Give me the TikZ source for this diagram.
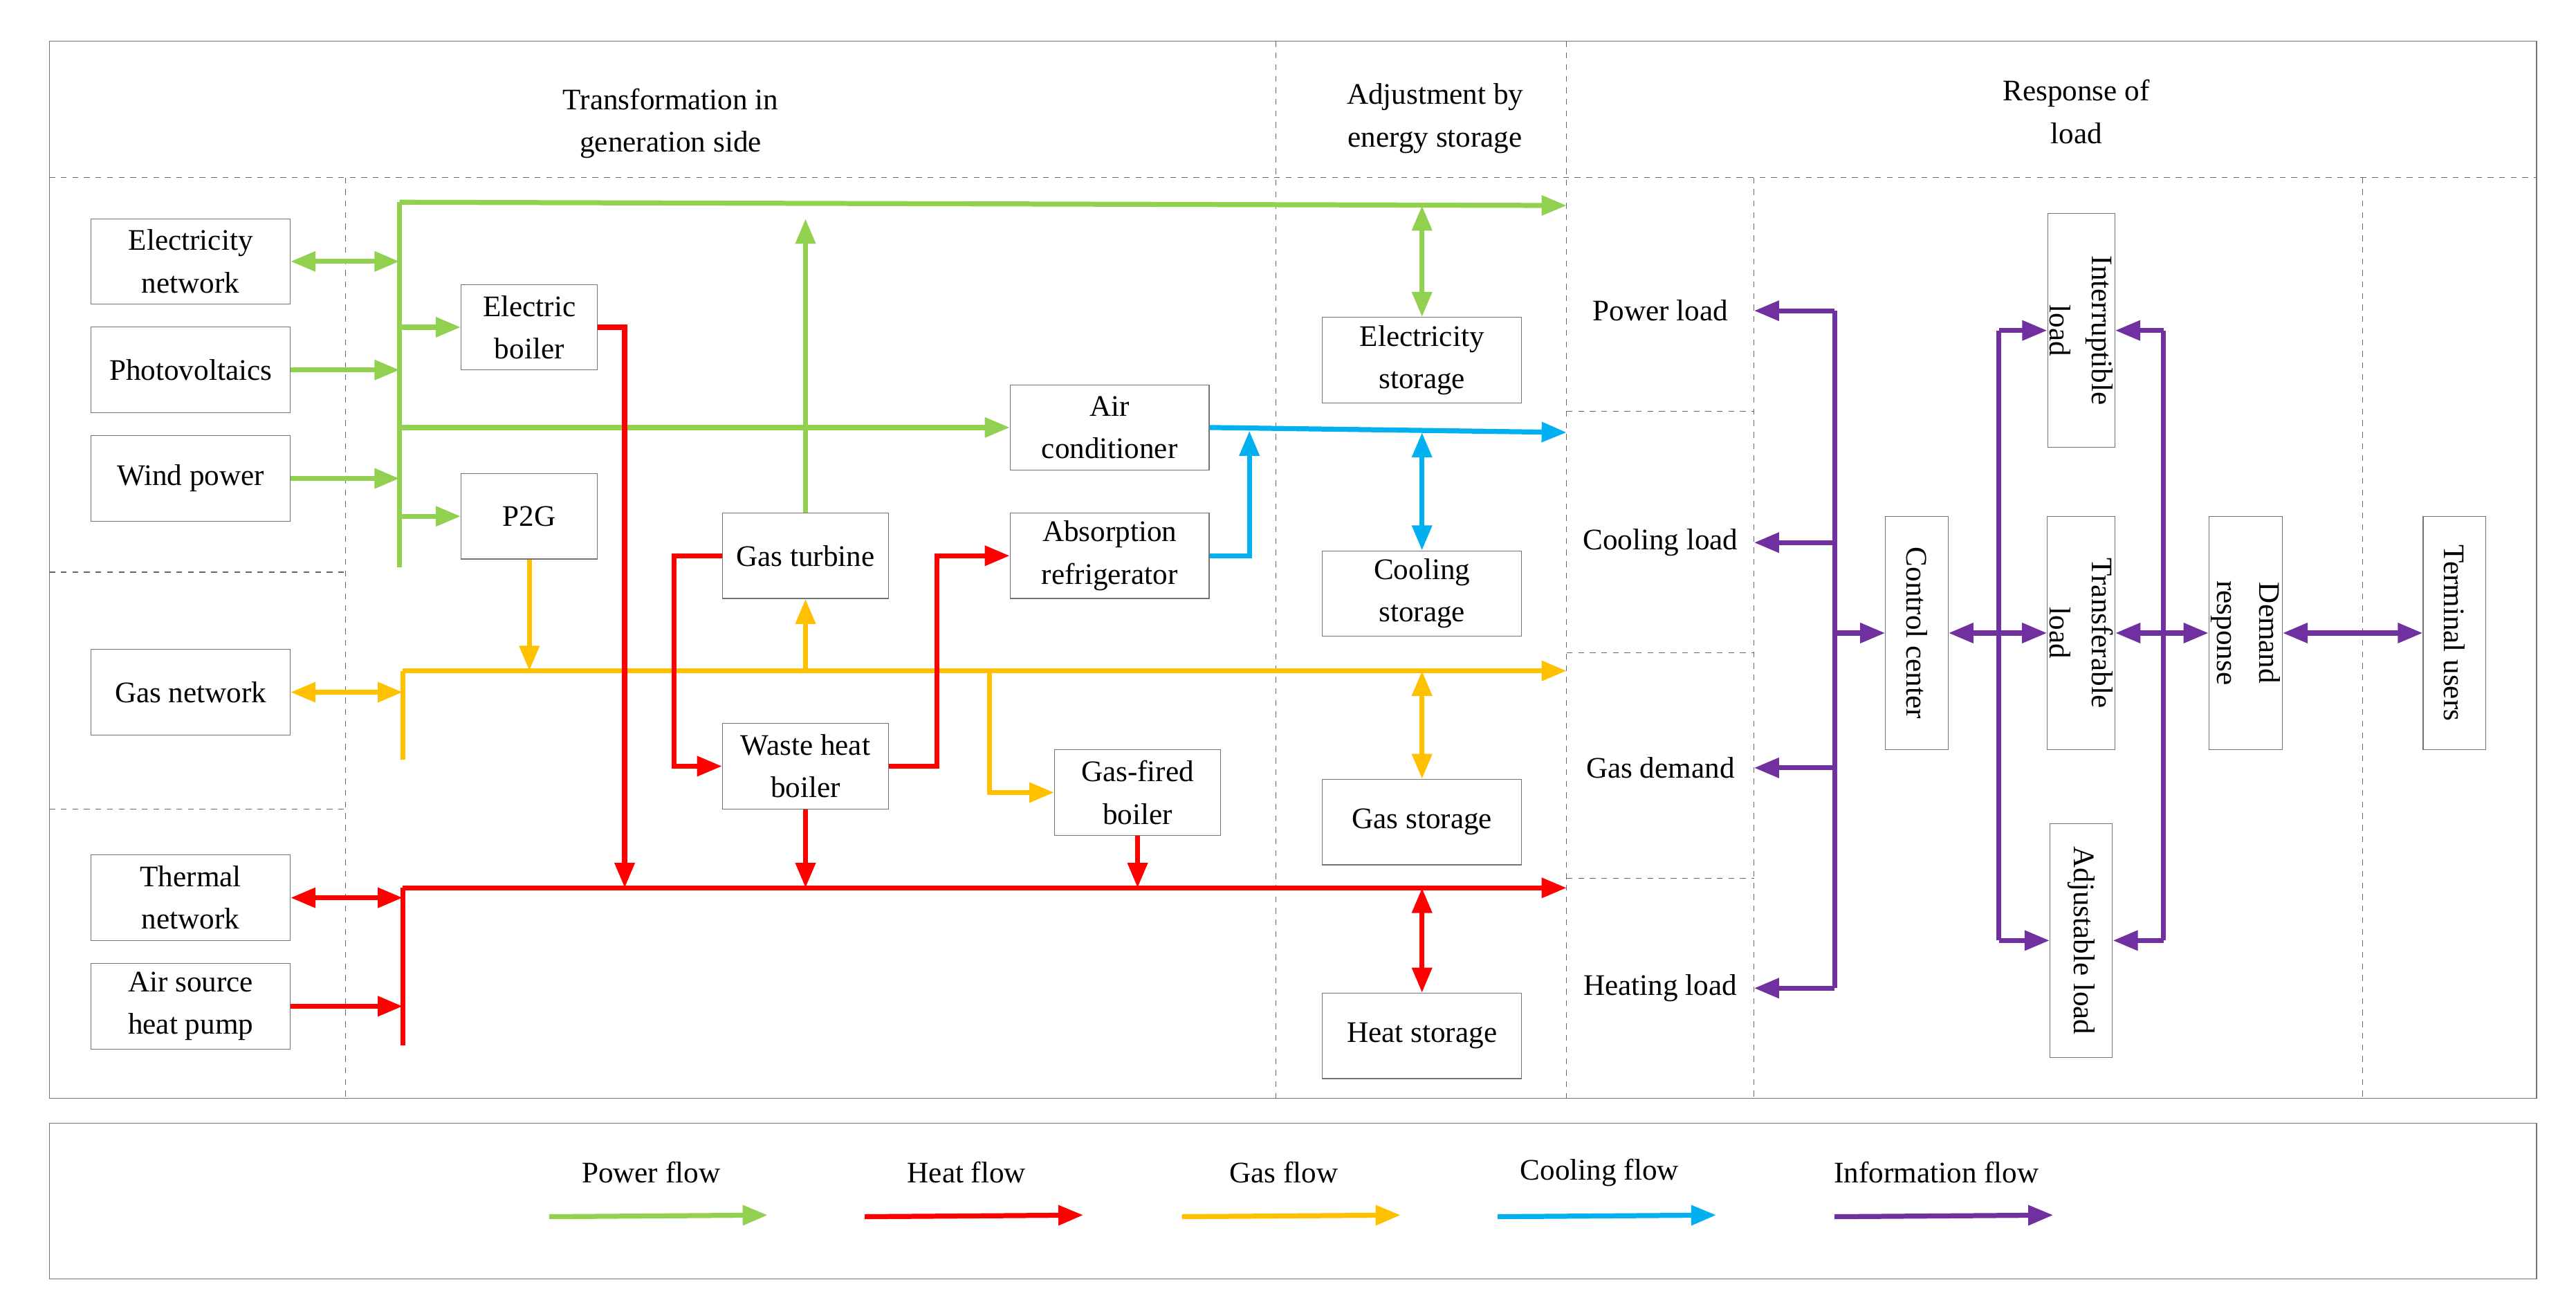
\documentclass[tikz,border=0pt]{standalone}
\usepackage{fontspec}
\setmainfont{Liberation Serif}
\usetikzlibrary{arrows.meta}
\definecolor{pgreen}{RGB}{146,208,80}
\definecolor{hred}{RGB}{255,0,0}
\definecolor{gorange}{RGB}{255,192,0}
\definecolor{cblue}{RGB}{0,176,240}
\definecolor{ipurple}{RGB}{112,48,160}
\begin{document}
\begin{tikzpicture}[x=0.03cm, y=-0.03cm,
    font=\fontsize{15.5}{22}\selectfont,
    box/.style={draw=black!55, align=center, inner sep=1pt, minimum width=3.63cm, minimum height=1.56cm},
    sbox/.style={box, minimum width=2.49cm},
    mbox/.style={box, minimum width=3.03cm},
    vbox/.style={box, rotate=-90, minimum width=4.26cm, minimum height=1.14cm},
    lbl/.style={align=center},
    sep/.style={draw=black!60, dashed, thin},
    flow/.style={line width=2.6pt, -{Triangle[length=13pt,width=10pt]}},
    both/.style={line width=2.6pt, {Triangle[length=13pt,width=10pt]}-{Triangle[length=13pt,width=10pt]}},
    line/.style={line width=2.6pt},
    power/.style={draw=pgreen},
    heat/.style={draw=hred},
    gas/.style={draw=gorange},
    cool/.style={draw=cblue},
    info/.style={draw=ipurple}]
\useasboundingbox (0,0) rectangle (1567,796);
% frames
\draw[black!55] (30,25) rectangle (1543,668);
\draw[black!55] (30,683) rectangle (1543,778);
\draw[sep] (30,108) -- (1543,108);
\draw[sep] (776,25) -- (776,668);
\draw[sep] (953,25) -- (953,668);
\draw[sep] (210,108) -- (210,668);
\draw[sep] (1067,108) -- (1067,668);
\draw[sep] (1437,108) -- (1437,668);
\draw[sep] (30,348) -- (210,348);
\draw[sep] (30,492) -- (210,492);
\foreach \yy in {250,397,534} \draw[sep] (953,\yy) -- (1067,\yy);
% headers
\node[lbl] (hgen) at (408,75) {Transformation in\\generation side};
\node[lbl] (hsto) at (873,72) {Adjustment by\\energy storage};
\node[lbl] (hload) at (1263,68) {Response of\\load};
% sources
\node[box] (elnet) at (116,159) {Electricity\\network};
\node[box] (pv) at (116,225) {Photovoltaics};
\node[box] (wind) at (116,291) {Wind power};
\node[box] (gasnet) at (116,421) {Gas network};
\node[box] (thnet) at (116,546) {Thermal\\network};
\node[box] (ashp) at (116,612) {Air source\\heat pump};
% converters
\node[sbox] (eboil) at (322,199) {Electric\\boiler};
\node[sbox] (ptg) at (322,314) {P2G};
\node[mbox] (gt) at (490,338) {Gas turbine};
\node[box] (ac) at (675,260) {Air\\conditioner};
\node[box] (absr) at (675,338) {Absorption\\refrigerator};
\node[mbox] (whb) at (490,466) {Waste heat\\boiler};
\node[mbox] (gfb) at (692,482) {Gas-fired\\boiler};
% storage
\node[box] (esto) at (865,219) {Electricity\\storage};
\node[box] (csto) at (865,361) {Cooling\\storage};
\node[box] (gsto) at (865,500) {Gas storage};
\node[box] (hsto2) at (865,630) {Heat storage};
% loads
\node (pload) at (1010,189) {Power load};
\node (cload) at (1010,330) {Cooling load};
\node (gload) at (1010,467) {Gas demand};
\node (hload2) at (1010,601) {Heating load};
\node[vbox] (cc) at (1166,385) {Control center};
\node[vbox] (intl) at (1266,201) {Interruptible\\load};
\node[vbox] (trl) at (1266,385) {Transferable\\load};
\node[vbox] (adl) at (1266,572) {Adjustable load};
\node[vbox] (dr) at (1366,385) {Demand\\response};
\node[vbox] (tu) at (1493,385) {Terminal users};
% bus coordinates
\coordinate (pbt) at (243,123);
\coordinate (pbb) at (243,345);
\coordinate (pend) at (953,125);
\coordinate (gbt) at (245,408);
\coordinate (gbb) at (245,462);
\coordinate (gend) at (953,408);
\coordinate (hbt) at (245,540);
\coordinate (hbb) at (245,636);
\coordinate (hend) at (953,540);
\coordinate (cend) at (953,263);
% power flow
\draw[line, power] (pbt) -- (pbb);
\draw[flow, power] (pbt) -- (pend);
\draw[both, power] (elnet) -- (elnet -| pbt);
\draw[flow, power] (pv) -- (pv -| pbt);
\draw[flow, power] (wind) -- (wind -| pbt);
\draw[flow, power] (eboil -| pbt) -- (eboil);
\draw[flow, power] (ptg -| pbt) -- (ptg);
\draw[flow, power] (ac -| pbt) -- (ac);
\draw[flow, power] (gt) -- (490,133);
\draw[both, power] (865,125) -- (esto);
% cooling flow
\draw[flow, cool] (ac.east) -- (cend);
\draw[flow, cool] (absr.east) -| (760,262);
\draw[both, cool] (865,263) -- (csto);
% gas flow
\draw[line, gas] (gbt) -- (gbb);
\draw[flow, gas] (gbt) -- (gend);
\draw[both, gas] (gasnet) -- (gasnet -| gbt);
\draw[flow, gas] (ptg) -- (ptg |- gbt);
\draw[flow, gas] (gt |- gbt) -- (gt);
\draw[flow, gas] (602,408) |- (gfb);
\draw[both, gas] (865,408) -- (gsto);
% heat flow
\draw[line, heat] (hbt) -- (hbb);
\draw[flow, heat] (hbt) -- (hend);
\draw[both, heat] (thnet) -- (thnet -| hbt);
\draw[flow, heat] (ashp) -- (ashp -| hbt);
\draw[flow, heat] (eboil.east) -| (380,540);
\draw[flow, heat] (gt.west) -| (410,466) -- (whb.west);
\draw[flow, heat] (whb.east) -| (570,338) -- (absr.west);
\draw[flow, heat] (whb) -- (whb |- hbt);
\draw[flow, heat] (gfb) -- (gfb |- hbt);
\draw[both, heat] (865,540) -- (hsto2);
% information flow
\draw[line, info] (1116,189) -- (1116,601);
\foreach \ld in {pload, cload, gload, hload2}
    \draw[flow, info] (1116,0 |- \ld) -- (1067,0 |- \ld);
\draw[flow, info] (1116,385) -- (cc.south);
\draw[both, info] (cc.north) -- (trl.south);
\draw[line, info] (1216,201) -- (1216,572);
\draw[flow, info] (1216,201) -- (intl.south);
\draw[flow, info] (1216,572) -- (adl.south);
\draw[line, info] (1316,201) -- (1316,572);
\draw[flow, info] (1316,201) -- (intl.north);
\draw[flow, info] (1316,572) -- (adl.north);
\draw[both, info] (trl.north) -- (dr.south);
\draw[both, info] (dr.north) -- (tu.south);
% legend
\foreach \xx/\txt/\sty in {396/Power flow/power, 588/Heat flow/heat, 781/Gas flow/gas, 973/Cooling flow/cool, 1178/Information flow/info}{
    \node (leg\sty) at (\xx,713) {\txt};
    \coordinate (la\sty) at (\xx-62,740);
    \coordinate (lb\sty) at (\xx+71,739);
    \draw[flow, \sty] (la\sty) -- (lb\sty);
}
\end{tikzpicture}
\end{document}
